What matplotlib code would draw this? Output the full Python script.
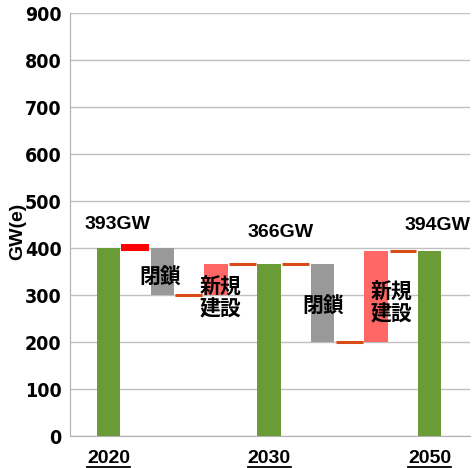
import numpy as np
import matplotlib
matplotlib.use("Agg")
import matplotlib.pyplot as plt
from matplotlib import font_manager

# waterfall data (GW)
total_x = [0, 6, 12]
total_val = [400, 366, 394]
total_labels = ["393GW", "366GW", "394GW"]
year_labels = ["2020", "2030", "2050"]

close_x = [2, 8]
close_top = [400, 366]
close_bottom = [300, 200]

build_x = [4, 10]
build_bottom = [300, 200]
build_top = [366, 394]

link_x = [3, 5, 7, 9, 11]
link_val = [300, 366, 366, 200, 394]

red_x = 1
red_lo, red_hi = 393, 408

yticks = [0, 100, 200, 300, 400, 500, 600, 700, 800, 900]

names = {f.name for f in font_manager.fontManager.ttflist}
narrow = "Liberation Sans Narrow" if "Liberation Sans Narrow" in names else "DejaVu Sans"
cjk = ["Noto Sans CJK JP", "DejaVu Sans"]

fig = plt.figure(figsize=(4.76, 4.68), dpi=100)
ax = fig.add_axes([0.147, 0.068, 0.840, 0.904])

green = "#6b9b37"
gray = "#999999"
pink = "#ff6666"
orange = "#d84c1a"

ax.bar(total_x, total_val, width=0.88, color=green, zorder=3)
ax.bar(close_x, np.array(close_top) - np.array(close_bottom), bottom=close_bottom,
       width=0.86, color=gray, zorder=3)
ax.bar(build_x, np.array(build_top) - np.array(build_bottom), bottom=build_bottom,
       width=0.9, color=pink, zorder=3)
ax.bar(red_x, red_hi - red_lo, bottom=red_lo, width=1.04, color="#ff0000", zorder=3)
for x, v in zip(link_x, link_val):
    ax.hlines(v, x - 0.5, x + 0.5, color=orange, lw=2.2, zorder=3)

ax.set_xlim(-1.44, 13.5)
ax.set_ylim(0, 900)
ax.set_yticks(yticks)
ax.set_yticklabels([str(t) for t in yticks], fontfamily=narrow, fontweight="bold",
                   fontstretch="condensed", fontsize=14)
ax.tick_params(axis="y", length=0, pad=6)
ax.set_xticks([])
ax.grid(axis="y", color="#c0c0c0", lw=1, zorder=0)
for s in ["top", "right"]:
    ax.spines[s].set_visible(False)
for s in ["left", "bottom"]:
    ax.spines[s].set_color("#b0b0b0")

ax.set_ylabel("GW(e)", fontsize=14, fontweight="bold", family="Liberation Sans")
ax.yaxis.set_label_coords(-0.11, 0.485)

# total labels
label_pos = [(0.35, 451), (6.44, 434), (12.3, 449)]
for (x, y), t in zip(label_pos, total_labels):
    ax.text(x, y, t, ha="center", va="center", fontsize=14, fontweight="bold",
            family="Liberation Sans")

# step labels
ax.text(1.92, 338, "閉鎖", ha="center", va="center", fontsize=15, fontweight="bold", family=cjk, zorder=4)
ax.text(4.17, 294, "新規\n建設", ha="center", va="center", fontsize=15, fontweight="bold",
        family=cjk, linespacing=1.05, zorder=4)
ax.text(8.02, 277, "閉鎖", ha="center", va="center", fontsize=15, fontweight="bold", family=cjk, zorder=4)
ax.text(10.58, 283, "新規\n建設", ha="center", va="center", fontsize=15, fontweight="bold",
        family=cjk, linespacing=1.05, zorder=4)

# underlined year labels
year_texts = []
for x, t in zip(total_x, year_labels):
    txt = ax.text(x, -47, t, ha="center", va="center", fontsize=14, fontweight="bold",
                  family="Liberation Sans", clip_on=False)
    year_texts.append(txt)

fig.canvas.draw()
r = fig.canvas.get_renderer()
inv = fig.transFigure.inverted()
for txt in year_texts:
    bb = txt.get_window_extent(r)
    (x0, y0), (x1, y1) = inv.transform([(bb.x0, bb.y0), (bb.x1, bb.y0)])
    fig.add_artist(plt.Line2D([x0, x1], [y0 - 0.001, y0 - 0.001], color="black", lw=1.3))

fig.savefig("out.png", dpi=100)
